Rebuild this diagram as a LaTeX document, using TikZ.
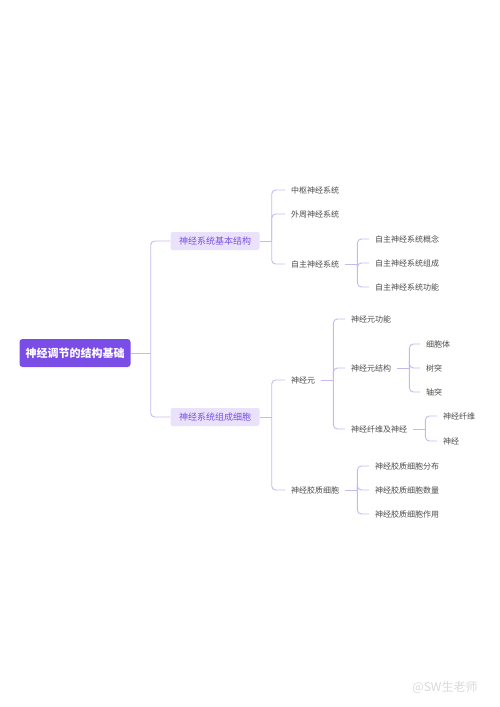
\documentclass[tikz,border=0pt]{standalone}
\usepackage{fontspec}
\setmainfont{Noto Sans CJK SC}
\usetikzlibrary{positioning}
\definecolor{rootpurple}{HTML}{7A4EE6}
\definecolor{lavender}{HTML}{EAE2FB}
\definecolor{linkpurple}{HTML}{C8B8F0}
\definecolor{leafgray}{HTML}{4D4D4D}
\tikzset{
  rootbox/.style={fill=rootpurple, text=white, rounded corners=3pt,
    minimum width=111pt, minimum height=28pt, inner sep=2pt,
    font=\fontsize{11}{13}\selectfont\bfseries},
  topicbox/.style={fill=lavender, text=rootpurple, rounded corners=2pt,
    minimum width=89pt, minimum height=18pt, inner sep=2pt,
    font=\fontsize{9}{11}\selectfont},
  leaf/.style={text=leafgray, anchor=west, inner sep=6pt,
    font=\fontsize{8}{10}\selectfont},
  link/.style={draw=linkpurple, line width=0.9pt, rounded corners=4pt}
}

\begin{document}
\begin{tikzpicture}[x=1pt, y=-1pt]
    \useasboundingbox (0,0) rectangle (500,707);
    % root and topics
    \node[rootbox] (root) at (75,353) {神经调节的结构基础};
    \node[topicbox] (basic) at (215,241) {神经系统基本结构};
    \node[topicbox] (cells) at (215,417) {神经系统组成细胞};
    % basic structure
    \node[leaf] (cns) at (285,190) {中枢神经系统};
    \node[leaf] (pns) at (285,214) {外周神经系统};
    \node[leaf] (ans) at (285,264) {自主神经系统};
    \node[leaf] (ansA) at (369,239) {自主神经系统概念};
    \node[leaf] (ansB) at (369,263) {自主神经系统组成};
    \node[leaf] (ansC) at (369,287) {自主神经系统功能};
    % cells
    \node[leaf] (neuron) at (285,380) {神经元};
    \node[leaf] (glia) at (285,490) {神经胶质细胞};
    \node[leaf] (nfunc) at (345,319) {神经元功能};
    \node[leaf] (nstruct) at (345,368) {神经元结构};
    \node[leaf] (nfiber) at (345,429) {神经纤维及神经};
    \node[leaf] (soma) at (420,344) {细胞体};
    \node[leaf] (dendrite) at (420,368) {树突};
    \node[leaf] (axon) at (420,392) {轴突};
    \node[leaf] (fiber) at (437,416) {神经纤维};
    \node[leaf] (nerve) at (437,441) {神经};
    \node[leaf] (gliaA) at (369,466) {神经胶质细胞分布};
    \node[leaf] (gliaB) at (369,490) {神经胶质细胞数量};
    \node[leaf] (gliaC) at (369,514) {神经胶质细胞作用};
    % connectors
    \draw[link] (root.east) -- ++(20,0) coordinate (root-j);
    \foreach \k in {basic,cells} {
      \draw[link] (root-j) |- (\k.west);
    }
    \foreach \p/\kids in {basic/{cns,pns,ans}, ans/{ansA,ansB,ansC},
        cells/{neuron,glia}, neuron/{nfunc,nstruct,nfiber},
        nstruct/{soma,dendrite,axon}, nfiber/{fiber,nerve},
        glia/{gliaA,gliaB,gliaC}} {
      \draw[link] (\p.east) -- ++(12,0) coordinate (\p-j);
      \foreach \k in \kids {
        \draw[link] (\p-j) |- (\k.west);
      }
    }
    % watermark
    \node[text=gray!30, font=\fontsize{12}{14}\selectfont] (mark) at (445,687) {@SW生老师};
\end{tikzpicture}
\end{document}
